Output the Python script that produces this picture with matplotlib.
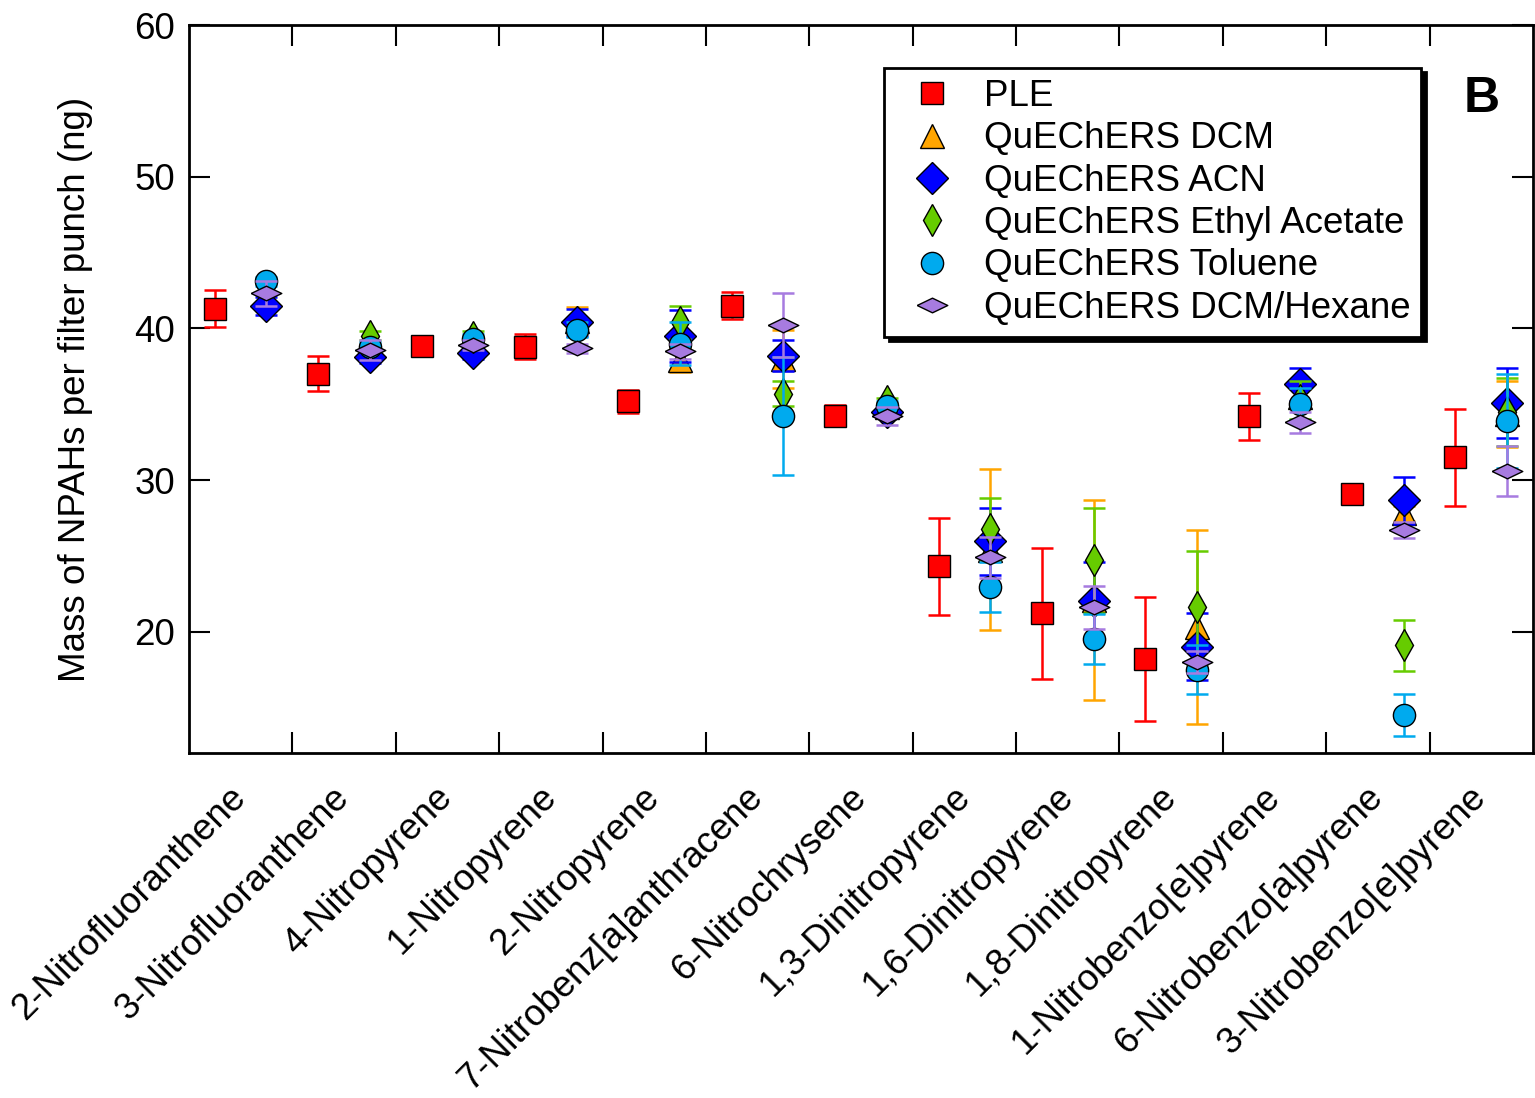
import numpy as np
import matplotlib
matplotlib.use("Agg")
import matplotlib.pyplot as plt
from matplotlib.lines import Line2D
from matplotlib.transforms import ScaledTranslation

plt.rcParams['font.family'] = ['Liberation Sans', 'DejaVu Sans']

nan = np.nan

# compounds (x categories)
categories = ['2-Nitrofluoranthene', '3-Nitrofluoranthene', '4-Nitropyrene',
              '1-Nitropyrene', '2-Nitropyrene', '7-Nitrobenz[a]anthracene',
              '6-Nitrochrysene', '1,3-Dinitropyrene', '1,6-Dinitropyrene',
              '1,8-Dinitropyrene', '1-Nitrobenzo[e]pyrene',
              '6-Nitrobenzo[a]pyrene', '3-Nitrobenzo[e]pyrene']

# mass (ng) and error per method
ple = [41.3, 37.0, 38.85, 38.8, 35.2, 41.5, 34.25, 24.3, 21.2, 18.2, 34.2, 29.1, 31.5]
ple_err = [1.2, 1.15, 0.5, 0.85, 0.75, 0.9, 0.7, 3.2, 4.3, 4.1, 1.55, 0.5, 3.2]

dcm = [nan, nan, nan, 40.5, 37.9, 38.0, 34.8, 25.4, 22.1, 20.3, 35.5, 27.8, 34.35]
dcm_err = [nan, nan, nan, 0.9, 0.8, 1.9, 0.3, 5.3, 6.6, 6.4, 0.5, 0.5, 2.2]

acn = [41.5, 38.1, 38.4, 40.4, 39.5, 38.2, 34.5, 25.95, 22.0, 19.0, 36.3, 28.65, 35.1]
acn_err = [0.6, 0.4, 0.4, 0.9, 1.7, 1.0, 0.3, 2.2, 2.6, 2.2, 1.1, 1.55, 2.3]

ea = [nan, 39.5, 39.45, nan, 40.4, 35.7, 35.2, 26.8, 24.7, 21.6, 35.3, 19.1, 34.5]
ea_err = [nan, 0.3, 0.35, nan, 1.1, 0.8, 0.2, 2.0, 3.45, 3.7, 1.25, 1.7, 2.25]

tol = [43.1, 38.8, 39.3, 39.9, 39.0, 34.2, 34.9, 22.95, 19.5, 17.5, 35.0, 14.5, 33.9]
tol_err = [0.3, 0.3, 0.3, 0.5, 1.4, 3.9, 0.3, 1.65, 1.65, 1.6, 1.05, 1.4, 3.1]

hex_ = [42.3, 38.55, 38.9, 38.7, 38.5, 40.2, 34.2, 24.9, 21.6, 18.0, 33.8, 26.7, 30.6]
hex_err = [0.8, 0.65, 0.3, 0.3, 0.5, 2.1, 0.6, 1.35, 1.4, 0.7, 0.7, 0.5, 1.65]

flat_diamond = [(-1, 0), (0, 0.48), (1, 0), (0, -0.48), (-1, 0)]

# label, values, errors, colour, marker, size, x offset in band
series = [
    ('PLE', ple, ple_err, '#FF0000', 's', 16, 0.25),
    ('QuEChERS DCM', dcm, dcm_err, '#FFA500', '^', 17, 0.75),
    ('QuEChERS ACN', acn, acn_err, '#0000FF', 'D', 16, 0.75),
    ('QuEChERS Ethyl Acetate', ea, ea_err, '#66CC00', 'd', 16, 0.75),
    ('QuEChERS Toluene', tol, tol_err, '#00AAEE', 'o', 16, 0.75),
    ('QuEChERS DCM/Hexane', hex_, hex_err, '#A77BE0', flat_diamond, 22, 0.75),
]

fs = 26.5

fig = plt.figure(figsize=(15.35, 10.98), dpi=100)
ax = fig.add_axes([0.1231, 0.3142, 0.8756, 0.663])

idx = np.arange(len(categories))
handles = []
for i, (lab, vals, errs, col, mk, ms, off) in enumerate(series):
    x = idx + off
    ax.errorbar(x, vals, yerr=errs, fmt='none', ecolor=col, elinewidth=1.8,
                capsize=8, capthick=1.8, zorder=3 + 2 * i)
    ax.plot(x, vals, ls='none', marker=mk, ms=ms, mfc=col, mec='black',
            mew=1.0, zorder=4 + 2 * i)
    handles.append(Line2D([], [], ls='none', marker=mk, ms=ms, mfc=col,
                          mec='black', mew=1.0, label=lab))

ax.set_xlim(0, len(categories))
ax.set_ylim(12, 60)
ax.set_yticks([20, 30, 40, 50, 60])
ax.set_xticks(np.arange(1, len(categories)))
ax.set_xticklabels([])
ax.set_xticks(idx + 0.5, minor=True)
ax.set_xticklabels(categories, minor=True, rotation=45, ha='right',
                   va='center', rotation_mode='anchor', fontsize=fs)
shift = ScaledTranslation(7 / 100, 0, fig.dpi_scale_trans)
for t in ax.get_xticklabels(minor=True):
    t.set_transform(t.get_transform() + shift)
ax.tick_params(axis='x', which='minor', length=0, pad=28)
ax.tick_params(axis='both', which='major', direction='in', length=15,
               width=1.5, top=True, right=True, labelsize=fs)
ax.tick_params(axis='y', pad=10)
for s in ax.spines.values():
    s.set_linewidth(2)

ax.set_ylabel('Mass of NPAHs per filter punch (ng)', fontsize=fs, labelpad=30)

ax.text(0.962, 0.898, 'B', transform=ax.transAxes, fontsize=36,
        fontweight='bold', ha='center', va='center')

leg = ax.legend(handles=handles, loc='upper right',
                bbox_to_anchor=(0.917, 0.941), borderaxespad=0,
                fontsize=fs, numpoints=1,
                fancybox=False, framealpha=1, edgecolor='black',
                labelspacing=0.2, handletextpad=0.4, borderpad=0.3,
                shadow={'color': 'black', 'alpha': 1, 'ox': 3, 'oy': -3})
leg.get_frame().set_linewidth(2)

fig.savefig('out.png', dpi=100)
